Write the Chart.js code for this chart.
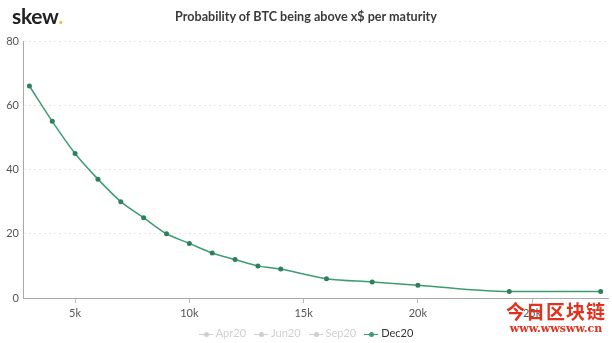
<!DOCTYPE html>
<html>
<head>
<meta charset="utf-8">
<script src="https://cdn.jsdelivr.net/npm/chart.js@4"></script>
<style>
    html, body { margin: 0; padding: 0; background: #fff; }
    #wrap { position: relative; width: 612px; height: 343px; font-family: Lato, "Open Sans", sans-serif; }
    #logo { position: absolute; left: 12px; top: 3px; font-size: 21px; font-weight: 700; color: #222; letter-spacing: -0.3px; }
    #logo span { color: #e8c547; }
    #title { position: absolute; left: 0; width: 612px; top: 9px; text-align: center; font-size: 12.6px; font-weight: 700; color: #3a3a3a; }
    #legend { position: absolute; left: 0; width: 612px; top: 326px; text-align: center; font-size: 11px; }
    #legend .item { display: inline-block; margin: 0 4px; }
    #legend .icon { display: inline-block; position: relative; width: 14px; height: 8px; vertical-align: middle; margin-right: 3px; }
    #legend .icon:before { content: ''; position: absolute; left: 0; right: 0; top: 3.5px; height: 1px; background: currentColor; }
    #legend .icon:after { content: ''; position: absolute; left: 5px; top: 1.5px; width: 5px; height: 5px; border-radius: 50%; background: currentColor; }
    #mark { position: absolute; left: 506px; top: 300px; color: #e0321e; text-align: center; font-weight: 700; }
    #mark .cn { font-family: "Noto Sans CJK SC", sans-serif; font-size: 19px; letter-spacing: 1px; line-height: 22px; }
    #mark .url { font-family: "DejaVu Serif", serif; font-size: 11px; line-height: 14px; }
    canvas { position: absolute; left: 0; top: 0; }
</style>
</head>
<body>
<div id="wrap">
    <canvas id="chart" width="612" height="343"></canvas>
    <div id="logo">skew<span>.</span></div>
    <div id="title">Probability of BTC being above x$ per maturity</div>
    <div id="legend"></div>
    <div id="mark"><div class="cn">今日区块链</div><div class="url">www.wwsww.cn</div></div>
</div>
<script>
// Data
const seriesNames = ['Apr20', 'Jun20', 'Sep20', 'Dec20'];
const activeSeries = 'Dec20';
const strikes = [3000, 4000, 5000, 6000, 7000, 8000, 9000, 10000, 11000, 12000, 13000, 14000, 16000, 18000, 20000, 24000, 28000];
const dec20 = [66, 55, 45, 37, 30, 25, 20, 17, 14, 12, 10, 9, 6, 5, 4, 2, 2];
const yTicks = [0, 20, 40, 60, 80];
const xTicks = [5000, 10000, 15000, 20000, 25000];

const lineColor = '#3d9d72';
const pointColor = '#2f7f5b';

// Legend
const legend = document.getElementById('legend');
seriesNames.forEach(name => {
    const on = name === activeSeries;
    const el = document.createElement('span');
    el.className = 'item';
    el.style.color = on ? lineColor : '#cfcfcf';
    el.innerHTML = `<span class="icon"></span><span style="color:${on ? '#333' : '#cfcfcf'}">${name}</span>`;
    legend.appendChild(el);
});

const ctx = document.getElementById('chart').getContext('2d');
new Chart(ctx, {
    type: 'line',
    data: {
        datasets: [{
            label: activeSeries,
            data: strikes.map((s, i) => ({ x: s, y: dec20[i] })),
            borderColor: lineColor,
            backgroundColor: pointColor,
            borderWidth: 1.5,
            pointRadius: 2.5,
            pointBorderWidth: 0,
            cubicInterpolationMode: 'monotone'
        }]
    },
    options: {
        responsive: false,
        animation: false,
        layout: { padding: { top: 41, right: 3, bottom: 20, left: 0 } },
        plugins: {
            legend: { display: false },
            tooltip: { enabled: false }
        },
        scales: {
            x: {
                type: 'linear',
                min: 2720,
                max: 28320,
                afterFit: scale => { scale.height = 25; },
                afterBuildTicks: scale => {
                    scale.ticks = xTicks.map(v => ({ value: v }));
                },
                ticks: {
                    color: '#555',
                    font: { family: 'Lato', size: 11 },
                    padding: 4,
                    callback: v => (v / 1000) + 'k'
                },
                grid: { drawOnChartArea: false, tickLength: 5, color: '#bbb' },
                border: { color: '#aaa' }
            },
            y: {
                min: 0,
                max: 80,
                afterFit: scale => { scale.width = 23; },
                afterBuildTicks: scale => {
                    scale.ticks = yTicks.map(v => ({ value: v }));
                },
                ticks: {
                    color: '#555',
                    font: { family: 'Lato', size: 11 },
                    padding: 4
                },
                grid: { color: '#e6e6e6', tickLength: 0 },
                border: { color: '#aaa', dash: [2, 3] }
            }
        }
    }
});
</script>
</body>
</html>
